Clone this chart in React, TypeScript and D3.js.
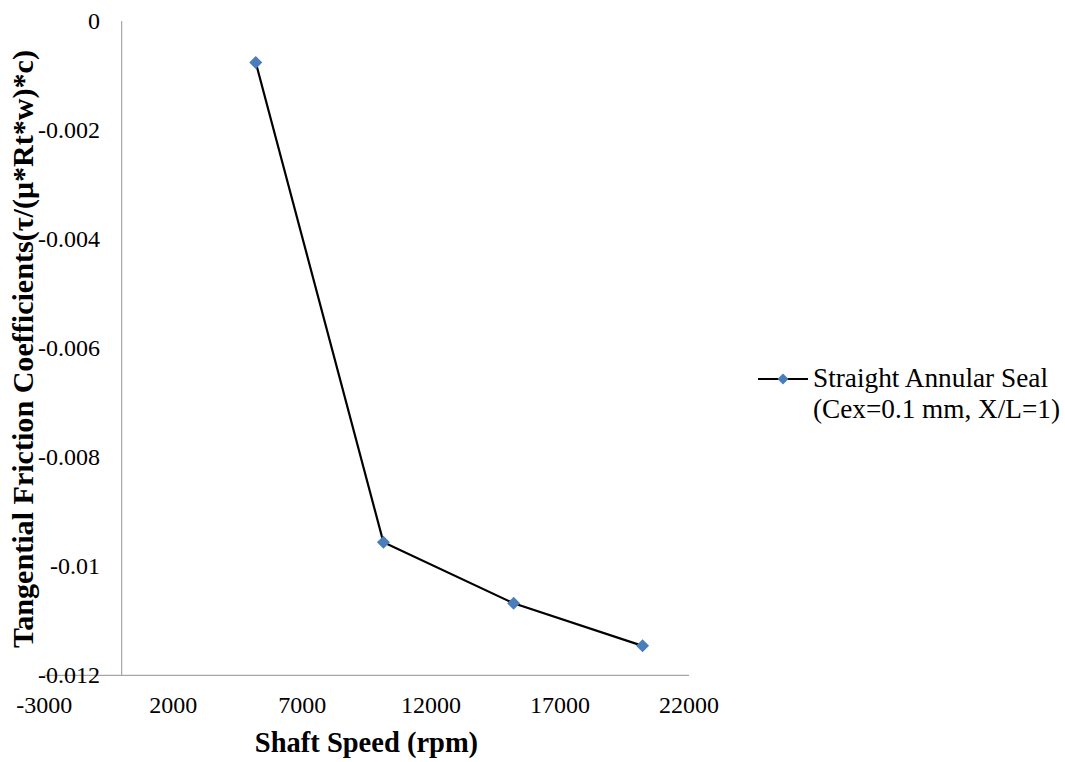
import React from "react";
import * as d3 from "d3";

const shaftSpeed = [5200, 10150, 15200, 20200];
const frictionCoef = [-0.00076, -0.00956, -0.01068, -0.01146];
const xTicks = [-3000, 2000, 7000, 12000, 17000, 22000];
const yTicks = [0, -0.002, -0.004, -0.006, -0.008, -0.01, -0.012];
const seriesName = ["Straight Annular Seal", "(Cex=0.1 mm, X/L=1)"];
const xTitle = "Shaft Speed (rpm)";
const yTitle = "Tangential Friction Coefficients(τ/(μ*Rt*w)*c)";

const W = 1065;
const H = 762;
const FONT = "Liberation Serif";
const BLUE = "#4A7EBB";

export default function App() {
  const x = d3.scaleLinear().domain([-3000, 22000]).range([44.3, 689]);
  const y = d3.scaleLinear().domain([-0.012, 0]).range([675.3, 21]);
  const pts = shaftSpeed.map((s, i) => [x(s), y(frictionCoef[i])] as [number, number]);
  const line = d3.line()(pts) || "";
  const diamond = (cx: number, cy: number, r = 6.5) =>
    `M${cx},${cy - r}L${cx + r},${cy}L${cx},${cy + r}L${cx - r},${cy}Z`;
  const fmt = (v: number) => (v === 0 ? "0" : String(+v.toFixed(3)));
  const serif = { fontFamily: FONT };

  return (
    <svg width={W} height={H} style={{ position: "absolute", left: 0, top: 0, background: "#fff" }}>
      <rect width={W} height={H} fill="#fff" />
      {/* axes */}
      <line x1={x(0)} x2={x(0)} y1={y(0)} y2={y(-0.012)} stroke="#A6A6A6" strokeWidth={1.2} />
      <line x1={x(-3000)} x2={x(22000)} y1={y(-0.012)} y2={y(-0.012)} stroke="#A6A6A6" strokeWidth={1.2} />
      {/* y tick labels */}
      {yTicks.map((t) => (
        <text key={t} x={100} y={y(t) + 8} textAnchor="end" fontSize={24} fill="#000" style={serif}>
          {fmt(t)}
        </text>
      ))}
      {/* x tick labels */}
      {xTicks.map((t) => (
        <text key={t} x={x(t)} y={713} textAnchor="middle" fontSize={24} fill="#000" style={serif}>
          {String(t)}
        </text>
      ))}
      {/* series */}
      <path d={line} fill="none" stroke="#000" strokeWidth={2.2} />
      {pts.map(([cx, cy], i) => (
        <path key={i} d={diamond(cx, cy)} fill={BLUE} />
      ))}
      {/* axis titles */}
      <text x={366.5} y={752} textAnchor="middle" fontSize={28.5} fontWeight="bold" fill="#000" style={serif}>
        {xTitle}
      </text>
      <text
        transform={`translate(33,349) rotate(-90)`}
        textAnchor="middle"
        fontSize={29}
        fontWeight="bold"
        fill="#000"
        style={serif}
        textLength={598}
        lengthAdjust="spacingAndGlyphs"
      >
        {yTitle}
      </text>
      {/* legend */}
      <line x1={758} x2={808} y1={379} y2={379} stroke="#000" strokeWidth={2.2} />
      <path d={diamond(783, 379, 5.5)} fill={BLUE} />
      <text x={813} y={387} fontSize={27} fill="#000" style={serif} textLength={235} lengthAdjust="spacingAndGlyphs">
        {seriesName[0]}
      </text>
      <text x={813} y={418} fontSize={27} fill="#000" style={serif} textLength={247} lengthAdjust="spacingAndGlyphs">
        {seriesName[1]}
      </text>
    </svg>
  );
}
